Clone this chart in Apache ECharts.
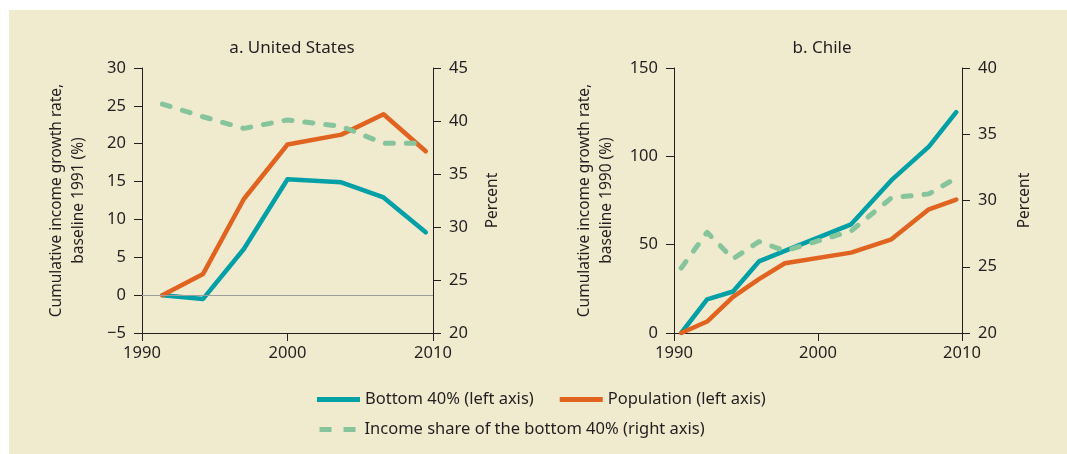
<!DOCTYPE html>
<html>
<head>
<meta charset="utf-8">
<script src="https://cdn.jsdelivr.net/npm/echarts@6/dist/echarts.min.js"></script>
<style>
  html, body { margin: 0; padding: 0; background: #ffffff; }
  #wrap { position: relative; width: 1067px; height: 454px; }
  #panel { position: absolute; left: 9px; top: 10px; right: 0; bottom: 0; background: #f0eacf; }
  #chart { position: absolute; left: 0; top: 0; width: 1067px; height: 454px; }
</style>
</head>
<body>
<div id="wrap"><div id="panel"></div><div id="chart"></div></div>
<script>
// United States (baseline 1991)
const usYears      = [1991.4, 1994.2, 1997.0, 2000.0, 2003.7, 2006.6, 2009.5];
const usBottom40   = [0, -0.5, 6.1, 15.3, 14.9, 12.9, 8.3];
const usPopulation = [0, 2.8, 12.7, 19.9, 21.2, 23.9, 19.0];
const usShare      = [41.6, 40.4, 39.3, 40.1, 39.5, 37.9, 37.9];

// Chile (baseline 1990)
const clYears      = [1990.5, 1992.3, 1994.1, 1995.9, 1997.7, 2002.3, 2005.1, 2007.7, 2009.6];
const clBottom40   = [0, 19, 23.5, 40.5, 46.5, 61.5, 86.5, 105.5, 125];
const clPopulation = [0, 6.5, 20.5, 30.5, 39.5, 45.5, 53, 70, 75.5];
const clShare      = [24.9, 27.6, 25.6, 26.9, 26.2, 27.7, 30.2, 30.5, 31.7];

const NAME_B40 = 'Bottom 40% (left axis)';
const NAME_POP = 'Population (left axis)';
const NAME_SHARE = 'Income share of the bottom 40% (right axis)';

const TEAL = '#00a0a6';
const ORANGE = '#e0631f';
const GREEN = '#86c49b';
const INK = '#231f20';
const FONT = 'Noto Sans';

const pairs = (xs, ys) => xs.map((x, i) => [x, ys[i]]);

const axisCommon = {
  axisLine: { show: true, onZero: false, lineStyle: { color: INK, width: 1 } },
  axisTick: { show: true, inside: false, length: 8, lineStyle: { color: INK, width: 1 } },
  splitLine: { show: false },
  axisLabel: { color: INK, fontFamily: FONT, fontSize: 16.5, margin: 16 },
  nameTextStyle: { color: INK, fontFamily: FONT, fontSize: 15.5, lineHeight: 22 }
};

function xAxis(gridIndex) {
  return Object.assign({}, axisCommon, {
    type: 'value', gridIndex, min: 1990, max: 2010, interval: 10,
    axisLabel: Object.assign({}, axisCommon.axisLabel, { margin: 12, formatter: v => String(v) })
  });
}

function yAxis(gridIndex, pos, min, max, interval, name, gap) {
  return Object.assign({}, axisCommon, {
    type: 'value', gridIndex, position: pos, min, max, interval,
    name, nameLocation: 'middle', nameRotate: 90, nameGap: gap,
    axisLabel: Object.assign({}, axisCommon.axisLabel, {
      formatter: v => (v < 0 ? '\u2212' + Math.abs(v) : String(v))
    })
  });
}

function line(name, xIdx, yIdx, data, color, dashed) {
  return {
    type: 'line', name, xAxisIndex: xIdx, yAxisIndex: yIdx, data,
    symbol: 'none', smooth: false, animation: false,
    lineStyle: dashed
      ? { color, width: 5, type: [8, 13], cap: 'round', join: 'round' }
      : { color, width: 4.5, cap: 'round', join: 'round' },
    itemStyle: { color }
  };
}

const chart = echarts.init(document.getElementById('chart'), null, { renderer: 'canvas' });

const usB40 = line(NAME_B40, 0, 0, pairs(usYears, usBottom40), TEAL, false);
usB40.markLine = {
  silent: true, symbol: 'none', label: { show: false },
  lineStyle: { color: '#9d9d9d', width: 1, type: 'solid' },
  data: [{ yAxis: 0 }], animation: false
};

chart.setOption({
  backgroundColor: 'transparent',
  animation: false,
  title: [
    { text: 'a. United States', left: 287, top: 35, textAlign: 'center',
      textStyle: { color: INK, fontFamily: FONT, fontSize: 17, fontWeight: 'normal' } },
    { text: 'b. Chile', left: 817, top: 35, textAlign: 'center',
      textStyle: { color: INK, fontFamily: FONT, fontSize: 17, fontWeight: 'normal' } }
  ],
  grid: [
    { left: 142, top: 68, width: 291, height: 265 },
    { left: 674, top: 68, width: 288, height: 265 }
  ],
  xAxis: [xAxis(0), xAxis(1)],
  yAxis: [
    yAxis(0, 'left', -5, 30, 5, 'Cumulative income growth rate,\nbaseline 1991 (%)', 52),
    yAxis(0, 'right', 20, 45, 5, 'Percent', 49),
    yAxis(1, 'left', 0, 150, 50, 'Cumulative income growth rate,\nbaseline 1990 (%)', 56),
    yAxis(1, 'right', 20, 40, 5, 'Percent', 52)
  ],
  legend: [
    { data: [NAME_B40, NAME_POP], left: 312, top: 386, orient: 'horizontal',
      itemWidth: 43, itemHeight: 5, itemGap: 26, icon: 'rect',
      selectedMode: false,
      textStyle: { color: INK, fontFamily: FONT, fontSize: 16.5, padding: [0, 0, 0, 0] } },
    { data: [NAME_SHARE], left: 312, top: 416, orient: 'horizontal',
      itemWidth: 36, itemHeight: 12, selectedMode: false,
      itemStyle: { color: 'transparent', borderWidth: 0, opacity: 0 },
      lineStyle: { type: [12, 12], cap: 'butt', width: 5 },
      textStyle: { color: INK, fontFamily: FONT, fontSize: 16.5, padding: [0, 0, 0, 4] } }
  ],
  series: [
    usB40,
    line(NAME_POP, 0, 0, pairs(usYears, usPopulation), ORANGE, false),
    line(NAME_SHARE, 0, 1, pairs(usYears, usShare), GREEN, true),
    line(NAME_B40, 1, 2, pairs(clYears, clBottom40), TEAL, false),
    line(NAME_POP, 1, 2, pairs(clYears, clPopulation), ORANGE, false),
    line(NAME_SHARE, 1, 3, pairs(clYears, clShare), GREEN, true)
  ]
});
</script>
</body>
</html>
